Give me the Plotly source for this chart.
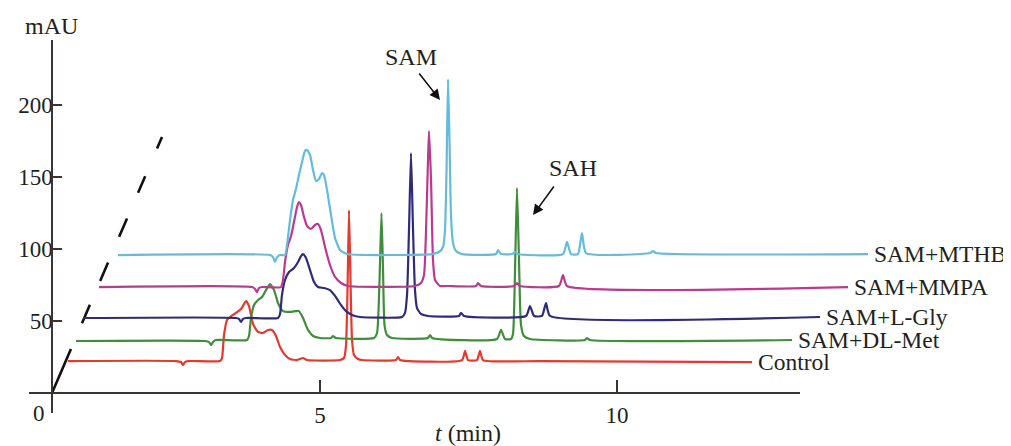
import plotly.graph_objects as go

# ---------------- data ----------------
# time axis values (min) and absorbance (mAU) as drawn in the stacked plot
control_t = [0.758, 2.576, 2.660, 2.694, 2.727, 2.778, 3.316, 3.350, 3.384, 3.434, 3.485, 3.586, 3.670,
             3.721, 3.754, 3.805, 3.872, 3.956, 4.040, 4.125, 4.192, 4.259, 4.327, 4.411, 4.495, 4.613,
             4.714, 4.781, 5.337, 5.404, 5.438, 5.463, 5.488, 5.513, 5.539, 5.572, 5.640, 5.707, 6.279,
             6.313, 6.347, 7.391, 7.441, 7.492, 7.643, 7.694, 7.744, 8.704, 12.273]
control_y = [22.2, 22.2, 21.5, 19.4, 21.5, 22.2, 22.2, 24.3, 40.3, 50.7, 52.8, 55.6, 58.3,
             61.8, 63.9, 60.4, 47.9, 42.4, 41.7, 43.8, 43.8, 39.6, 31.9, 26.4, 23.6, 22.9,
             24.3, 22.9, 22.9, 24.3, 33.3, 71.5, 127.1, 78.5, 36.8, 26.4, 23.6, 22.9, 22.9,
             25.0, 22.9, 22.9, 29.2, 22.9, 22.9, 29.2, 22.9, 22.2, 21.5]

dlmet_t = [0.892, 3.064, 3.131, 3.165, 3.199, 3.249, 3.771, 3.805, 3.838, 3.889, 3.956, 4.024, 4.091,
           4.158, 4.226, 4.293, 4.377, 4.495, 4.596, 4.646, 4.714, 4.798, 4.882, 5.000, 5.185, 5.219,
           5.269, 5.909, 5.960, 6.002, 6.035, 6.061, 6.086, 6.128, 6.212, 6.818, 6.852, 6.886, 7.980,
           8.047, 8.114, 8.215, 8.249, 8.283, 8.316, 8.350, 8.384, 8.434, 8.535, 9.461, 9.495, 9.545,
           12.946]
dlmet_y = [36.1, 36.1, 35.4, 33.3, 35.4, 36.8, 36.8, 39.6, 52.1, 61.1, 64.6, 66.7, 71.5,
           75.7, 71.5, 62.5, 56.9, 56.3, 56.9, 56.9, 52.1, 43.8, 39.6, 38.2, 38.2, 39.6,
           38.2, 38.2, 41.7, 78.5, 125.0, 85.4, 47.2, 40.3, 38.2, 38.2, 40.3, 38.2, 37.5,
           43.8, 37.5, 37.5, 41.0, 85.4, 142.4, 92.4, 47.2, 39.6, 37.5, 36.8, 38.2, 36.8,
           36.8]

lgly_t = [1.010, 3.586, 3.636, 3.670, 3.704, 3.754, 4.293, 4.327, 4.360, 4.411, 4.478, 4.562, 4.630,
          4.680, 4.714, 4.764, 4.832, 4.899, 4.966, 5.067, 5.168, 5.253, 5.354, 5.438, 5.539, 5.673,
          6.380, 6.431, 6.465, 6.498, 6.532, 6.566, 6.599, 6.633, 6.700, 6.818, 7.340, 7.374, 7.424,
          8.468, 8.535, 8.603, 8.737, 8.805, 8.872, 13.418]
lgly_y = [52.1, 52.1, 51.4, 49.3, 51.4, 52.1, 52.1, 54.9, 68.1, 78.5, 84.0, 86.8, 91.0,
          95.1, 96.5, 93.8, 85.4, 77.1, 73.6, 72.9, 71.5, 67.4, 61.1, 56.9, 54.2, 52.8,
          52.8, 55.6, 68.1, 113.2, 166.7, 113.2, 71.5, 59.0, 54.9, 53.5, 53.5, 55.6, 53.5,
          53.5, 60.4, 53.5, 53.5, 62.5, 53.5, 52.8]

mmpa_t = [1.279, 3.855, 3.906, 3.939, 3.973, 4.024, 4.343, 4.377, 4.411, 4.461, 4.512, 4.562, 4.613,
          4.646, 4.680, 4.731, 4.781, 4.848, 4.916, 4.966, 5.017, 5.084, 5.168, 5.253, 5.354, 5.471,
          6.599, 6.700, 6.751, 6.785, 6.818, 6.835, 6.869, 6.902, 6.936, 7.020, 7.138, 7.626, 7.660,
          7.710, 8.266, 8.316, 8.367, 9.024, 9.091, 9.158, 13.889]
mmpa_y = [73.6, 73.6, 72.2, 70.1, 72.9, 73.6, 73.6, 78.5, 91.0, 102.8, 109.0, 118.8, 129.2,
          132.6, 130.6, 122.2, 116.0, 113.9, 116.7, 117.4, 113.2, 101.4, 88.9, 80.6, 76.4, 74.3,
          74.3, 76.4, 81.9, 113.2, 161.8, 181.9, 147.9, 92.4, 78.5, 74.3, 74.3, 74.3, 76.4,
          74.3, 74.3, 76.4, 74.3, 74.3, 81.9, 74.3, 73.6]

mthb_t = [1.599, 4.158, 4.209, 4.242, 4.276, 4.327, 4.411, 4.444, 4.495, 4.545, 4.596, 4.646, 4.697,
          4.747, 4.781, 4.832, 4.882, 4.933, 4.983, 5.034, 5.067, 5.118, 5.185, 5.253, 5.337, 5.455,
          6.886, 7.003, 7.071, 7.104, 7.130, 7.155, 7.180, 7.205, 7.239, 7.290, 7.391, 7.963, 7.997,
          8.047, 8.232, 8.283, 8.333, 9.091, 9.158, 9.226, 9.343, 9.411, 9.478, 10.556, 10.606, 10.657,
          14.226]
mthb_y = [95.8, 95.8, 94.4, 91.0, 94.4, 95.8, 95.8, 102.8, 120.1, 134.0, 141.8, 151.4, 160.4,
          168.1, 168.8, 165.3, 154.9, 147.2, 148.6, 152.8, 151.4, 141.0, 123.6, 107.6, 99.3, 96.5,
          96.5, 97.9, 101.4, 113.2, 154.9, 218.1, 175.7, 123.6, 104.2, 98.6, 96.5, 96.5, 99.3,
          96.5, 96.5, 97.9, 96.5, 96.5, 104.9, 96.5, 96.5, 111.1, 97.2, 97.2, 98.6, 97.2,
          96.5]

series_names = ["Control", "SAM+DL-Met", "SAM+L-Gly", "SAM+MMPA", "SAM+MTHB"]
series_t = [control_t, dlmet_t, lgly_t, mmpa_t, mthb_t]
series_y = [control_y, dlmet_y, lgly_y, mmpa_y, mthb_y]
series_colors = ["#e5392e", "#3f8f3a", "#2f2b7c", "#bb3a8f", "#62bcdc"]

x_tick_vals = [5, 10]
x_tick_text = ["5", "10"]
y_tick_vals = [50, 100, 150, 200]
y_tick_text = ["50", "100", "150", "200"]

# offset guide line (pseudo-3D stacking direction)
guide_t = [0.488, 2.340]
guide_y = [0.0, 177.8]

# peak annotations: label (t, y), arrow tail (t, y), arrow head (t, y)
peak_labels = ["SAM", "SAH"]
peak_label_pos = [(6.532, 233.3), (9.259, 156.3)]
peak_arrow_tail = [(6.650, 222.9), (8.956, 144.4)]
peak_arrow_head = [(7.020, 203.5), (8.586, 123.6)]

# ---------------- figure ----------------
FONT = "Liberation Serif, Times New Roman, serif"
TXT = "#231f20"
AX = "#3a3433"
FS = 24
Y_RANGE = [0, 267.4]

fig = go.Figure()

fig.add_trace(go.Scatter(x=guide_t, y=guide_y, mode="lines",
                         line=dict(color="#111111", width=2.6,
                                   dash="48px,28px,20px,26px,20px,28px,20px,28px,18px,30px,14px"),
                         hoverinfo="skip", showlegend=False))

for name, t, y, c in zip(series_names, series_t, series_y, series_colors):
    fig.add_trace(go.Scatter(x=t, y=y, mode="lines", name=name,
                             line=dict(color=c, width=2.2, shape="spline", smoothing=0.5),
                             showlegend=False))
    fig.add_annotation(x=t[-1] + 0.08, y=y[-1], text=name, showarrow=False,
                       xanchor="left", yanchor="middle", borderpad=0,
                       font=dict(family=FONT, size=23.5, color=TXT))

# invisible helper trace on a second y axis that only carries the tick labels
fig.add_trace(go.Scatter(x=[None], y=[None], yaxis="y2", showlegend=False, hoverinfo="skip"))

for lab, (lx, ly), (tx, ty), (hx, hy) in zip(peak_labels, peak_label_pos, peak_arrow_tail, peak_arrow_head):
    fig.add_annotation(x=lx, y=ly, text=lab, showarrow=False,
                       font=dict(family=FONT, size=FS, color=TXT))
    fig.add_annotation(x=hx, y=hy, ax=tx, ay=ty, axref="x", ayref="y", text="",
                       showarrow=True, arrowhead=2, arrowsize=1.3, arrowwidth=1.6,
                       arrowcolor="#111111")

# axis lines (extend beyond the plotting origin as in the original)
fig.add_shape(type="line", xref="paper", yref="paper", x0=-0.024, x1=0.780, y0=0, y1=0,
              line=dict(color=AX, width=2))
fig.add_shape(type="line", xref="paper", yref="paper", x0=0, x1=0, y0=-0.052, y1=0.917,
              line=dict(color=AX, width=2))

fig.add_annotation(xref="paper", yref="paper", x=-0.0136, y=-0.054, text="0", showarrow=False,
                   xanchor="center", yanchor="middle", font=dict(family=FONT, size=23, color=TXT))
fig.add_annotation(xref="paper", yref="paper", x=-0.001, y=0.953, text="mAU", showarrow=False,
                   xanchor="center", yanchor="middle", font=dict(family=FONT, size=FS, color=TXT))
fig.add_annotation(xref="paper", yref="paper", x=0.434, y=-0.103, text="<i>t</i> (min)",
                   showarrow=False, xanchor="center", yanchor="middle", borderpad=0,
                   font=dict(family=FONT, size=FS, color=TXT))

# the page body adds an 8 px margin, so the figure is 8 px smaller and offset accordingly
fig.update_layout(
    width=1003, height=438,
    margin=dict(l=44, r=0, t=0, b=53),
    paper_bgcolor="white", plot_bgcolor="white",
    font=dict(family=FONT, size=23, color=TXT),
    xaxis=dict(range=[0.488, 16.633], showgrid=False, zeroline=False, showline=False,
               tickvals=x_tick_vals, ticktext=x_tick_text, ticks="inside", ticklen=13,
               tickwidth=2, tickcolor=AX, ticklabelstandoff=6),
    yaxis=dict(range=Y_RANGE, showgrid=False, zeroline=False, showline=False,
               tickvals=y_tick_vals, ticks="inside", ticklen=10,
               tickwidth=2, tickcolor=AX, showticklabels=False),
    yaxis2=dict(range=Y_RANGE, overlaying="y", anchor="free", position=0.0007, side="left",
                showgrid=False, zeroline=False, showline=False, ticks="",
                tickvals=y_tick_vals, ticktext=y_tick_text),
)

fig.write_html("out.html")
